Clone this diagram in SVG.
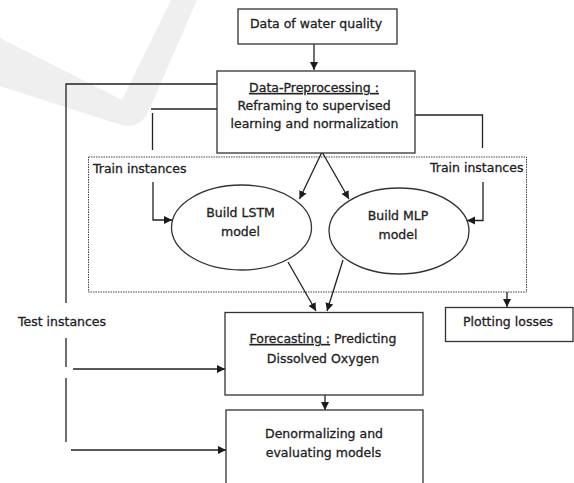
<svg xmlns="http://www.w3.org/2000/svg" width="574" height="483" viewBox="0 0 574 483">
<defs>
<marker id="ah" markerUnits="userSpaceOnUse" markerWidth="9" markerHeight="9" refX="8" refY="4" orient="auto">
<path d="M0,0 L8,4 L0,8 z" fill="#1a1a1a"/>
</marker>
<style>
.box{fill:#fff;stroke:#333;stroke-width:1.3}
.ell{fill:#fff;stroke:#333;stroke-width:1.3}
.ln{fill:none;stroke:#222;stroke-width:1.3}
.arr{fill:none;stroke:#222;stroke-width:1.3;marker-end:url(#ah)}
text{font-family:"DejaVu Sans","Liberation Sans",sans-serif;font-size:12.5px;fill:#222;stroke:#222;stroke-width:0.3}
.c{text-anchor:middle}
</style>
</defs>
<rect width="574" height="483" fill="#fff"/>
<path d="M0,38 L122,100 L171,0 L197,0 L149,110 Q140,131 118,124 L0,86 Z" fill="#efefef"/>
<g id="region-train">
<rect x="88.5" y="157" width="438" height="135" fill="none" stroke="#444" stroke-width="1" stroke-dasharray="1.5,1"/>
<text x="93" y="173">Train instances</text>
<text x="430" y="172">Train instances</text>
</g>
<g id="connectors">
<line class="arr" x1="314" y1="44" x2="314" y2="70"/>
<polyline class="ln" points="217,84 66,84 66,303"/>
<line class="ln" x1="66" y1="338" x2="66" y2="367"/>
<line class="arr" x1="73" y1="369" x2="225" y2="369"/>
<line class="ln" x1="66" y1="378" x2="66" y2="442"/>
<line class="arr" x1="71" y1="450" x2="226" y2="450"/>
<line class="ln" x1="217" y1="109" x2="151" y2="109"/>
<line class="ln" x1="152.5" y1="113" x2="152.5" y2="150"/>
<polyline class="arr" points="153,182 153,220 172,220"/>
<polyline class="ln" points="415,115 482.5,115 482.5,148"/>
<polyline class="arr" points="483,182 483,220.5 467,220.5"/>
<line class="arr" x1="322" y1="152" x2="299.5" y2="199"/>
<line class="arr" x1="322" y1="152" x2="349" y2="199"/>
<line class="arr" x1="288" y1="262" x2="316" y2="311"/>
<line class="arr" x1="343" y1="260" x2="327" y2="311"/>
<line class="arr" x1="507" y1="292" x2="507" y2="307"/>
<line class="arr" x1="325" y1="395" x2="325" y2="410"/>
</g>
<g id="data">
<rect class="box" x="238" y="9" width="159" height="35"/>
<text class="c" x="316" y="28">Data of water quality</text>
</g>
<g id="preprocessing">
<rect class="box" x="217" y="71" width="198" height="82"/>
<text class="c" x="314" y="92"><tspan text-decoration="underline">Data-Preprocessing :</tspan></text>
<text class="c" x="314" y="110">Reframing to supervised</text>
<text class="c" x="314.5" y="128">learning and normalization</text>
</g>
<g id="lstm">
<ellipse class="ell" cx="241.5" cy="227.5" rx="70" ry="42.5"/>
<text class="c" x="240.5" y="217">Build LSTM</text>
<text class="c" x="240.5" y="236">model</text>
</g>
<g id="mlp">
<ellipse class="ell" cx="399" cy="231" rx="70" ry="43"/>
<text class="c" x="398" y="220">Build MLP</text>
<text class="c" x="398" y="239">model</text>
</g>
<g id="test-label">
<text x="18" y="326">Test instances</text>
</g>
<g id="plotting">
<rect class="box" x="445.5" y="307.5" width="127.5" height="34"/>
<text x="463" y="325.5">Plotting losses</text>
</g>
<g id="forecasting">
<rect class="box" x="225" y="312.5" width="198" height="82.5"/>
<text class="c" x="323" y="343"><tspan text-decoration="underline">Forecasting :</tspan> Predicting</text>
<text class="c" x="323" y="362.5">Dissolved Oxygen</text>
</g>
<g id="denormalizing">
<rect class="box" x="226" y="410" width="197" height="80"/>
<text class="c" x="324" y="438">Denormalizing and</text>
<text class="c" x="323.5" y="456.5">evaluating models</text>
</g>
</svg>
